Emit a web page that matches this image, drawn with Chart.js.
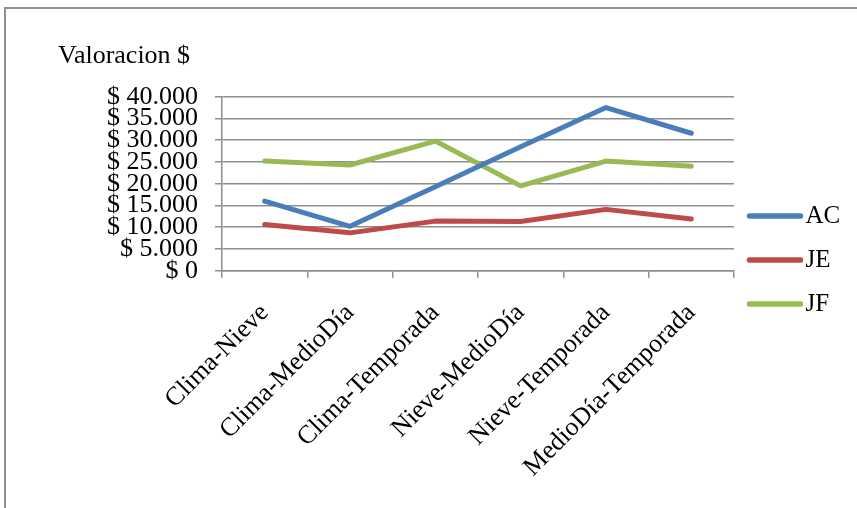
<!DOCTYPE html>
<html>
<head>
<meta charset="utf-8">
<script src="https://cdn.jsdelivr.net/npm/chart.js@4"></script>
<style>
  html, body { margin: 0; padding: 0; background: #fff; width: 857px; height: 508px; overflow: hidden; }
  #frame { position: absolute; left: 4px; top: 7px; width: 2000px; height: 2000px; border-top: 2px solid #8f8f8f; border-left: 2px solid #8f8f8f; }
  #c { position: absolute; left: 0; top: 0; }
</style>
</head>
<body>
<div id="frame"></div>
<canvas id="c" width="857" height="508"></canvas>
<script>
const categories = ['Clima-Nieve', 'Clima-MedioDía', 'Clima-Temporada', 'Nieve-MedioDía', 'Nieve-Temporada', 'MedioDía-Temporada'];
const seriesNames = ['AC', 'JE', 'JF'];
const acValues = [16000, 10200, 19300, 28500, 37500, 31600];
const jeValues = [10600, 8700, 11400, 11300, 14100, 11900];
const jfValues = [25200, 24300, 29800, 19500, 25200, 24000];
const yMin = 0, yMax = 40000, yStep = 5000;
const chartTitle = 'Valoracion $';

const colors = ['#4A7EBB', '#BE4B48', '#98B954'];

function fmtMoney(v) {
  return '$ ' + String(v).replace(/\B(?=(\d{3})+(?!\d))/g, '.');
}

function legendLine(color) {
  const c = document.createElement('canvas');
  c.width = 60; c.height = 10;
  const g = c.getContext('2d');
  g.strokeStyle = color; g.lineWidth = 5.5; g.lineCap = 'round';
  g.beginPath(); g.moveTo(6.5, 5); g.lineTo(57.5, 5); g.stroke();
  return c;
}

Chart.defaults.font.family = '"Liberation Serif", "Times New Roman", serif';
Chart.defaults.color = '#000';

const mk = (label, data, color) => ({
  label, data,
  borderColor: color, backgroundColor: color,
  borderWidth: 5, pointRadius: 0, pointHoverRadius: 0,
  tension: 0, borderCapStyle: 'round', borderJoinStyle: 'round', fill: false
});

new Chart(document.getElementById('c'), {
  type: 'line',
  data: {
    labels: categories,
    datasets: [
      mk(seriesNames[0], acValues, colors[0]),
      mk(seriesNames[1], jeValues, colors[1]),
      mk(seriesNames[2], jfValues, colors[2])
    ]
  },
  options: {
    responsive: false,
    animation: false,
    devicePixelRatio: 1,
    layout: { padding: { left: 58, right: 6.8, top: 12, bottom: 0 } },
    plugins: {
      tooltip: { enabled: false },
      title: {
        display: true, text: chartTitle, align: 'start', color: '#000',
        font: { size: 26, weight: 'normal' },
        padding: { top: 28.4, bottom: 25.1 }
      },
      legend: {
        position: 'right',
        labels: {
          usePointStyle: true,
          pointStyleWidth: 40,
          padding: 19,
          color: '#000',
          font: { size: 25 },
          generateLabels(chart) {
            const items = Chart.defaults.plugins.legend.labels.generateLabels(chart);
            items.forEach((it, i) => { it.pointStyle = legendLine(colors[i]); });
            return items;
          }
        }
      }
    },
    scales: {
      x: {
        offset: true,
        grid: { offset: true, drawOnChartArea: false, drawTicks: true, tickLength: 7, color: '#8e8e8e', lineWidth: 1.5 },
        border: { color: '#8e8e8e', width: 1.5 },
        ticks: { autoSkip: false, maxRotation: 45, minRotation: 45, padding: 20, font: { size: 26 }, color: '#000' },
        afterFit(scale) { scale.height = 237.3; }
      },
      y: {
        min: yMin, max: yMax,
        grid: { color: '#8e8e8e', lineWidth: 1.5, tickLength: 7 },
        border: { color: '#8e8e8e', width: 1.5 },
        ticks: { stepSize: yStep, autoSkip: false, padding: 17, font: { size: 26, lineHeight: 1 }, color: '#000',
                 callback: (v) => fmtMoney(v) },
        afterFit(scale) { scale.width = 164; }
      }
    }
  }
});
</script>
</body>
</html>
